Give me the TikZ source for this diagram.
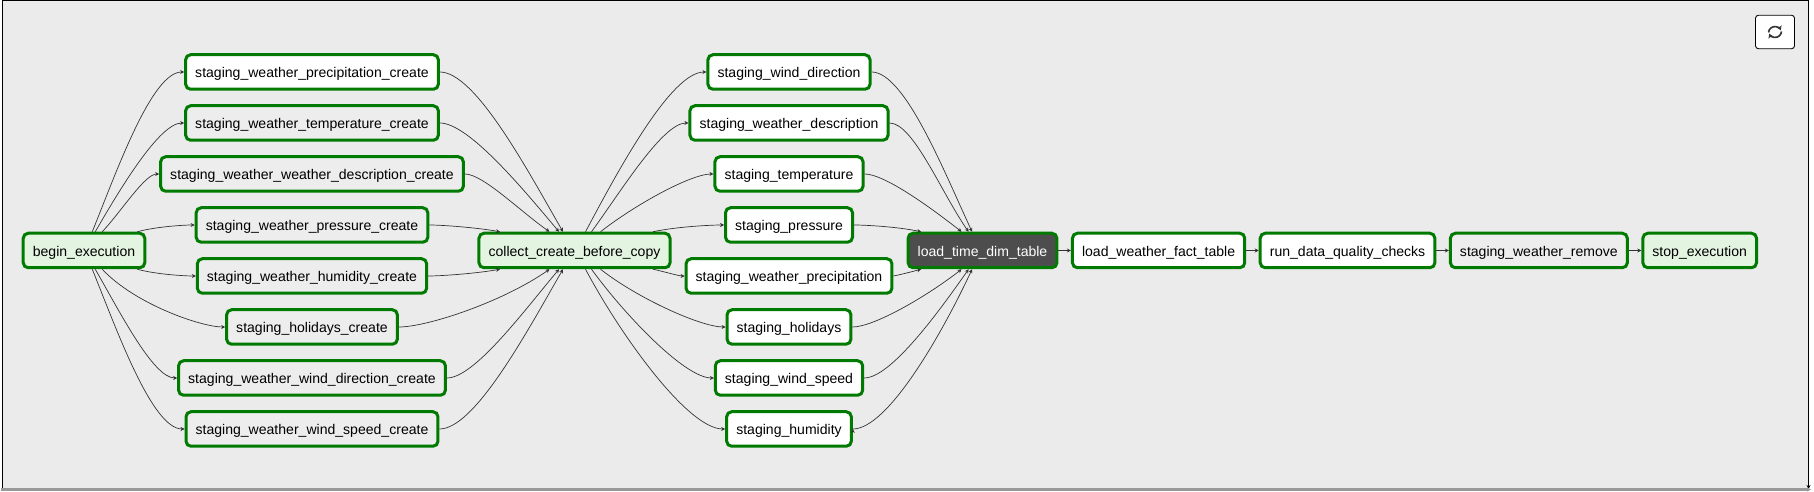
\documentclass[tikz,border=0pt]{standalone}
\usepackage{fontspec}
\setmainfont{Liberation Sans}
\usetikzlibrary{positioning,arrows.meta}
\definecolor{taskgreen}{HTML}{007A00}
\definecolor{canvasgray}{HTML}{EBEBEB}
\definecolor{opgray}{HTML}{EDEDED}
\definecolor{dummygreen}{HTML}{E3F5E0}
\definecolor{darktask}{HTML}{4D4D4D}
\definecolor{edgegray}{HTML}{333333}
\tikzset{->, % every edge is directed
>={Stealth[length=4pt,width=4pt]},
x=1pt,y=1pt,
node distance=51pt, % distance between two rows
edgeline/.style={draw=edgegray,line width=0.7pt},
fan/.style={in looseness=.45,out looseness=.9},
merge/.style={out looseness=.45,in looseness=.9},
task/.style={draw=taskgreen,line width=3pt,rounded corners=5pt,fill=white,
  minimum height=34.5pt,inner xsep=9.6pt,inner ysep=0pt,text height=12pt,text depth=0pt,
  font=\fontsize{14.05}{16}\selectfont},
optask/.style={task,fill=opgray},
dummytask/.style={task,fill=dummygreen},
darkbox/.style={task,fill=darktask,text=white},
}

\begin{document}
\begin{tikzpicture}
\useasboundingbox (0,0) rectangle (1814,492);
\path[fill=canvasgray] (3,3.5) rectangle (1808,491);
\draw[line width=1.5pt,black] (2.5,3) -- (2.5,491.5) -- (1808.5,491.5) -- (1808.5,3);
\draw[line width=3pt,black!40] (1,2.5) -- (1811,2.5);

\node[dummytask] (begin) at (84,241.5) {begin\_execution};

% first column
\node[task] (wprecip) at (312,420) {staging\_weather\_precipitation\_create};
\node[optask, below of=wprecip] (wtemp) {staging\_weather\_temperature\_create};
\node[optask, below of=wtemp] (wdesc) {staging\_weather\_weather\_description\_create};
\node[optask, below of=wdesc] (wpress) {staging\_weather\_pressure\_create};
\node[optask, below of=wpress] (whum) {staging\_weather\_humidity\_create};
\node[optask, below of=whum] (whol) {staging\_holidays\_create};
\node[optask, below of=whol] (wdir) {staging\_weather\_wind\_direction\_create};
\node[optask, below of=wdir] (wspeed) {staging\_weather\_wind\_speed\_create};

\node[dummytask] (collect) at (574.5,241.5) {collect\_create\_before\_copy};

% second column
\node[task] (sdir) at (789,420) {staging\_wind\_direction};
\node[task, below of=sdir] (sdesc) {staging\_weather\_description};
\node[task, below of=sdesc] (stemp) {staging\_temperature};
\node[task, below of=stemp] (spress) {staging\_pressure};
\node[task, below of=spress] (sprecip) {staging\_weather\_precipitation};
\node[task, below of=sprecip] (shol) {staging\_holidays};
\node[task, below of=shol] (sspeed) {staging\_wind\_speed};
\node[task, below of=sspeed] (shum) {staging\_humidity};

% last stretch
\node[darkbox] (timedim) at (982.5,241.5) {load\_time\_dim\_table};
\node[task, right=12.5pt of timedim] (fact) {load\_weather\_fact\_table};
\node[task, right=12.5pt of fact] (checks) {run\_data\_quality\_checks};
\node[optask, right=12.5pt of checks] (remove) {staging\_weather\_remove};
\node[dummytask, right=12.5pt of remove] (stop) {stop\_execution};

\draw[edgeline]
([xshift=-54pt]begin.north east) edge[fan,out=68,in=180] (wprecip.west)
([xshift=-51pt]begin.north east) edge[fan,out=60,in=180] (wtemp.west)
([xshift=-44pt]begin.north east) edge[fan,out=47,in=180] (wdesc.west)
([xshift=-9pt]begin.north east) edge[fan,out=15,in=180] (wpress.west)
([xshift=-9pt]begin.south east) edge[fan,out=-15,in=180] (whum.west)
([xshift=-44pt]begin.south east) edge[fan,out=-47,in=180] (whol.west)
([xshift=-51pt]begin.south east) edge[fan,out=-60,in=180] (wdir.west)
([xshift=-54pt]begin.south east) edge[fan,out=-68,in=180] (wspeed.west)

(wprecip.east) edge[merge,out=0,in=120] ([xshift=85.5pt]collect.north west)
(wtemp.east) edge[merge,out=0,in=130] ([xshift=81.5pt]collect.north west)
(wdesc.east) edge[merge,out=0,in=145] ([xshift=72pt]collect.north west)
(wpress.east) edge[merge,out=0,in=170] ([xshift=22.5pt]collect.north west)
(whum.east) edge[merge,out=0,in=190] ([xshift=22.5pt]collect.south west)
(whol.east) edge[merge,out=0,in=215] ([xshift=72pt]collect.south west)
(wdir.east) edge[merge,out=0,in=230] ([xshift=81.5pt]collect.south west)
(wspeed.east) edge[merge,out=0,in=240] ([xshift=85.5pt]collect.south west)

([xshift=-86pt]collect.north east) edge[fan,out=62,in=180] (sdir.west)
([xshift=-80pt]collect.north east) edge[fan,out=54,in=180] (sdesc.west)
([xshift=-71pt]collect.north east) edge[fan,out=38,in=180] (stemp.west)
([xshift=-18.5pt]collect.north east) edge[fan,out=12,in=180] (spress.west)
([xshift=-18.5pt]collect.south east) edge[fan,out=-12,in=180] (sprecip.west)
([xshift=-71pt]collect.south east) edge[fan,out=-38,in=180] (shol.west)
([xshift=-80pt]collect.south east) edge[fan,out=-54,in=180] (sspeed.west)
([xshift=-86pt]collect.south east) edge[fan,out=-62,in=180] (shum.west)

(sdir.east) edge[merge,out=0,in=115] ([xshift=65.5pt]timedim.north west)
(sdesc.east) edge[merge,out=0,in=125] ([xshift=62pt]timedim.north west)
(stemp.east) edge[merge,out=0,in=142] ([xshift=55pt]timedim.north west)
(spress.east) edge[merge,out=0,in=168] ([xshift=14.5pt]timedim.north west)
(sprecip.east) edge[merge,out=10,in=195] ([xshift=14.5pt]timedim.south west)
(shol.east) edge[merge,out=0,in=218] ([xshift=55pt]timedim.south west)
(sspeed.east) edge[merge,out=0,in=235] ([xshift=62pt]timedim.south west)
(shum.east) edge[merge,out=0,in=245] ([xshift=65.5pt]timedim.south west)

(timedim) edge (fact)
(fact) edge (checks)
(checks) edge (remove)
(remove) edge (stop);

% reload button
\node[draw=black,line width=0.9pt,rounded corners=3pt,fill=white,minimum width=39pt,minimum height=33.5pt] (reload) at (1775,460) {};
\draw[edgegray,line width=1.6pt,>={Stealth[length=4.5pt,width=5.5pt]}]
([shift={(-6.5,-0.5)}]reload.center) arc[start angle=175,end angle=25,radius=6.5pt];
\draw[edgegray,line width=1.6pt,>={Stealth[length=4.5pt,width=5.5pt]}]
([shift={(6.5,0.5)}]reload.center) arc[start angle=-5,end angle=-155,radius=6.5pt];
\end{tikzpicture}
\end{document}
